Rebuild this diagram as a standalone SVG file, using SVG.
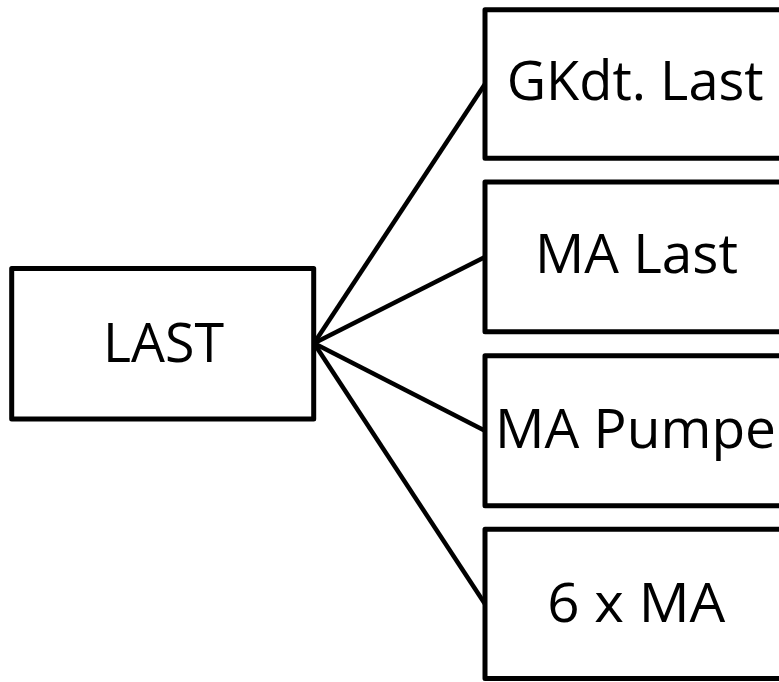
<svg xmlns="http://www.w3.org/2000/svg" width="779" height="682" viewBox="0 0 779 682">
<style>
.box{fill:#fff;stroke:#000;stroke-width:5;stroke-linejoin:round}
.lbl{font-family:"Open Sans","Noto Sans","Liberation Sans",sans-serif;font-size:55px;fill:#000}
.con{stroke:#000;stroke-width:4.5;fill:none}
</style>
<rect width="779" height="682" fill="#fff"/>
<g id="connectors">
<line class="con" x1="314" y1="343.3" x2="485" y2="84"/>
<line class="con" x1="314" y1="343.3" x2="485" y2="257"/>
<line class="con" x1="314" y1="343.3" x2="485" y2="430.8"/>
<line class="con" x1="314" y1="343.3" x2="485" y2="604"/>
</g>
<g id="node-last">
<rect class="box" x="11.7" y="268.5" width="302" height="150.5"/>
<text class="lbl" x="103" y="361.7" textLength="121" lengthAdjust="spacingAndGlyphs">LAST</text>
</g>
<g id="node-gkdt">
<rect class="box" x="485" y="9.7" width="310" height="148.6"/>
<text class="lbl" x="506.7" y="100" textLength="257" lengthAdjust="spacingAndGlyphs">GKdt. Last</text>
</g>
<g id="node-malast">
<rect class="box" x="485" y="182" width="310" height="149.8"/>
<text class="lbl" x="535" y="273.3" textLength="203" lengthAdjust="spacingAndGlyphs">MA Last</text>
</g>
<g id="node-mapumpe">
<rect class="box" x="485" y="355.8" width="310" height="150"/>
<text class="lbl" x="495" y="448.3" textLength="281" lengthAdjust="spacingAndGlyphs">MA Pumpe</text>
</g>
<g id="node-6xma">
<rect class="box" x="485" y="529.2" width="310" height="149.3"/>
<text class="lbl" x="547.3" y="622.3" textLength="178" lengthAdjust="spacingAndGlyphs">6 x MA</text>
</g>
</svg>
